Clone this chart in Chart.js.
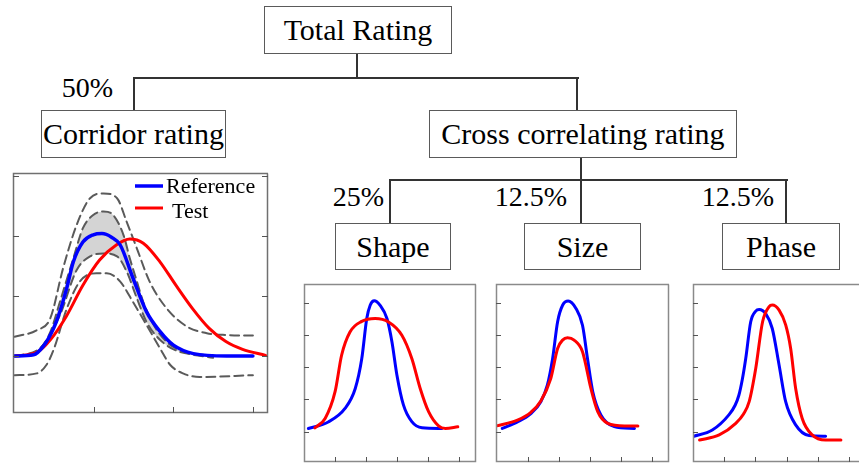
<!DOCTYPE html>
<html>
<head>
<meta charset="utf-8">
<title>Rating scheme</title>
<script src="https://cdn.jsdelivr.net/npm/chart.js@4.4.1/dist/chart.umd.min.js"></script>
<style>
  html, body { margin: 0; padding: 0; background: #fff; }
  #page { position: relative; width: 859px; height: 464px; overflow: hidden; background: #fff; }
  .box { position: absolute; box-sizing: border-box; border: 1px solid #5a5a5a; background: #fff;
         display: flex; align-items: center; justify-content: center;
         font-family: 'Liberation Serif', 'Times New Roman', serif; font-size: 30px; color: #000;
         line-height: 1; white-space: nowrap; }
  .pct { position: absolute; text-align: right; font-family: 'Liberation Serif', 'Times New Roman', serif;
         font-size: 28px; line-height: 28px; color: #000; white-space: nowrap; }
  .ln { position: absolute; background: #333; }
  canvas { position: absolute; }
</style>
</head>
<body>
<div id="page">
  <!-- rating tree -->
  <div class="box" style="left:264px;top:6px;width:188px;height:48px;">Total Rating</div>
  <div class="ln" style="left:356px;top:54px;width:2px;height:25px;"></div>
  <div class="ln" style="left:133px;top:77px;width:446px;height:2px;"></div>
  <div class="ln" style="left:133px;top:77px;width:2px;height:33px;"></div>
  <div class="ln" style="left:576px;top:77px;width:2px;height:33px;"></div>
  <div class="pct" style="left:30px;top:74px;width:83px;">50%</div>
  <div class="box" style="left:41px;top:110px;width:185px;height:48px;">Corridor rating</div>
  <div class="box" style="left:429px;top:110px;width:308px;height:48px;">Cross correlating rating</div>
  <div class="ln" style="left:580px;top:158px;width:2px;height:22px;"></div>
  <div class="ln" style="left:389px;top:179px;width:399px;height:2px;"></div>
  <div class="ln" style="left:389px;top:179px;width:2px;height:44px;"></div>
  <div class="ln" style="left:580px;top:179px;width:2px;height:44px;"></div>
  <div class="ln" style="left:785px;top:179px;width:2px;height:44px;"></div>
  <div class="pct" style="left:300px;top:183px;width:84px;">25%</div>
  <div class="pct" style="left:467px;top:183px;width:100px;">12.5%</div>
  <div class="pct" style="left:674px;top:183px;width:100px;">12.5%</div>
  <div class="box" style="left:335px;top:223px;width:116px;height:47px;">Shape</div>
  <div class="box" style="left:524px;top:223px;width:117px;height:47px;">Size</div>
  <div class="box" style="left:722px;top:223px;width:118px;height:47px;">Phase</div>

  <canvas id="corridor" width="259" height="244" style="left:11px;top:171px;"></canvas>
  <canvas id="shape" width="176" height="182" style="left:302px;top:282px;"></canvas>
  <canvas id="size" width="177" height="182" style="left:494px;top:282px;"></canvas>
  <canvas id="phase" width="168" height="182" style="left:691px;top:282px;"></canvas>
</div>

<script>
// ---- series labels and colours ----
const seriesLabels = ['Reference', 'Test'];
const refColor = '#0000ff';
const testColor = '#ff0000';

// ---- corridor rating: reference, test and corridor bounds ----
const refX  = [0, 0.24, 0.36, 0.49, 0.57, 0.66, 0.74, 0.86, 0.99, 1.10, 1.22, 1.33, 1.49, 1.66, 1.83, 2.00, 2.25, 2.67, 3.0];
const refY  = [0, 0.02, 0.16, 0.46, 0.74, 1.15, 1.57, 1.90, 2.02, 2.04, 1.98, 1.85, 1.30, 0.74, 0.41, 0.18, 0.04, 0, 0];
const testX = [0, 0.28, 0.45, 0.65, 0.86, 1.07, 1.28, 1.45, 1.62, 1.83, 2.03, 2.24, 2.45, 2.66, 2.87, 3.16];
const testY = [0, 0.06, 0.27, 0.66, 1.18, 1.60, 1.85, 1.95, 1.88, 1.57, 1.18, 0.79, 0.46, 0.24, 0.11, 0.01];
const outerUpX  = [0, 0.28, 0.45, 0.61, 0.78, 0.95, 1.12, 1.29, 1.41, 1.54, 1.70, 1.91, 2.17, 2.42, 2.67, 3.0];
const outerUpY  = [0.32, 0.43, 0.63, 1.46, 2.18, 2.63, 2.71, 2.63, 2.24, 1.79, 1.24, 0.80, 0.49, 0.38, 0.35, 0.34];
const innerUpX  = [0, 0.30, 0.45, 0.57, 0.74, 0.86, 0.99, 1.12, 1.24, 1.37, 1.45, 1.54, 1.62, 1.75, 1.91, 2.12, 2.50];
const innerUpY  = [0, 0.10, 0.40, 0.90, 1.63, 2.13, 2.35, 2.41, 2.35, 2.02, 1.63, 1.24, 0.90, 0.52, 0.24, 0.07, -0.03];
const innerLowX = [0, 0.32, 0.57, 0.78, 0.95, 1.12, 1.29, 1.41, 1.54, 1.66, 1.83, 2.08, 2.50];
const innerLowY = [0, 0.13, 0.68, 1.43, 1.66, 1.71, 1.66, 1.41, 0.96, 0.57, 0.27, 0.07, 0.01];
const outerLowX = [0, 0.28, 0.40, 0.49, 0.66, 0.82, 1.03, 1.16, 1.33, 1.49, 1.66, 1.83, 1.96, 2.12, 2.33, 3.0];
const outerLowY = [-0.32, -0.29, -0.15, 0.10, 0.80, 1.24, 1.38, 1.38, 1.24, 0.90, 0.52, 0.13, -0.15, -0.29, -0.35, -0.32];

// ---- shape rating ----
const shapeRefX  = [0.14, 0.78, 1.32, 1.65, 1.86, 2.02, 2.13, 2.26, 2.45, 2.67, 2.83, 2.99, 3.20, 3.47, 3.80, 4.44];
const shapeRefY  = [0.10, 0.30, 0.72, 1.34, 2.27, 3.51, 3.92, 4.06, 3.92, 3.51, 2.79, 1.76, 0.83, 0.31, 0.12, 0.10];
const shapeTestX = [0.35, 0.68, 1.00, 1.21, 1.48, 1.86, 2.29, 2.72, 3.15, 3.47, 3.74, 4.01, 4.33, 4.55, 4.95];
const shapeTestY = [0.12, 0.41, 1.24, 2.37, 3.09, 3.42, 3.51, 3.40, 2.99, 2.27, 1.34, 0.62, 0.18, 0.10, 0.15];

// ---- size rating ----
const sizeRefX  = [0.18, 0.67, 1.10, 1.42, 1.63, 1.80, 1.96, 2.12, 2.30, 2.55, 2.76, 2.92, 3.09, 3.35, 3.78, 4.43];
const sizeRefY  = [0.10, 0.30, 0.56, 0.93, 1.44, 2.27, 3.41, 3.92, 4.05, 3.82, 3.30, 2.27, 1.24, 0.52, 0.16, 0.10];
const sizeTestX = [0, 0.67, 1.10, 1.42, 1.74, 1.96, 2.12, 2.28, 2.49, 2.76, 3.03, 3.25, 3.57, 4.11, 4.54];
const sizeTestY = [0.18, 0.36, 0.60, 0.95, 1.65, 2.58, 2.84, 2.91, 2.84, 2.48, 1.34, 0.62, 0.26, 0.18, 0.18];

// ---- phase rating ----
const phaseRefX  = [0, 0.62, 1.15, 1.35, 1.47, 1.58, 1.69, 1.85, 2.01, 2.12, 2.33, 2.54, 2.76, 2.97, 3.29, 3.72, 4.25];
const phaseRefY  = [-0.15, 0.05, 0.52, 0.82, 1.13, 1.62, 2.27, 3.41, 3.74, 3.79, 3.66, 3.20, 2.06, 0.93, 0.21, -0.12, -0.14];
const phaseTestX = [0.21, 0.84, 1.37, 1.62, 1.80, 2.01, 2.23, 2.44, 2.54, 2.76, 2.97, 3.13, 3.29, 3.50, 3.82, 4.25, 4.74];
const phaseTestY = [-0.26, -0.10, 0.26, 0.55, 0.93, 1.96, 3.41, 3.88, 3.93, 3.77, 3.31, 2.58, 1.34, 0.41, -0.10, -0.26, -0.26];

// ---- tick positions ----
const corridorXTicks = [1, 2, 3];
const corridorYTicks = [0, 1, 2, 3];
const smallXTicks = [1, 2, 3, 4, 5];
const smallYTicks = [0, 1, 2, 3, 4];

const pts = (xs, ys) => xs.map((x, i) => ({ x, y: ys[i] }));

// Frame with inward tick marks, placed through the chart's own scales
const framePlugin = {
  id: 'frame',
  afterDraw(chart, args, opts) {
    const { ctx, chartArea: a, scales } = chart;
    ctx.save();
    ctx.strokeStyle = opts.color;
    ctx.lineWidth = opts.width;
    ctx.beginPath();
    ctx.moveTo(a.right + (opts.right ? 0 : 5), a.top + 0.5);
    ctx.lineTo(a.left + 0.5, a.top + 0.5);
    ctx.lineTo(a.left + 0.5, a.bottom - 0.5);
    ctx.lineTo(a.right + (opts.right ? -0.5 : 5), a.bottom - 0.5);
    if (opts.right) ctx.lineTo(a.right - 0.5, a.top + 0.5);
    ctx.stroke();

    ctx.strokeStyle = opts.tickColor;
    ctx.lineWidth = 1;
    ctx.beginPath();
    const len = opts.tickLen;
    opts.yTicks.forEach(v => {
      const y = Math.round(scales.y.getPixelForValue(v)) + 0.5;
      ctx.moveTo(a.left, y); ctx.lineTo(a.left + len, y);
      if (opts.rightTicks) { ctx.moveTo(a.right, y); ctx.lineTo(a.right - len, y); }
    });
    opts.xTicks.forEach(v => {
      const x = Math.round(scales.x.getPixelForValue(v)) + 0.5;
      ctx.moveTo(x, a.bottom); ctx.lineTo(x, a.bottom - len);
    });
    ctx.stroke();
    ctx.restore();
  }
};

// Line-sample legend inside the corridor plot
const insideLegend = {
  id: 'insideLegend',
  afterDraw(chart, args, opts) {
    if (!opts.show) return;
    const { ctx, chartArea: a } = chart;
    const ds = chart.data.datasets;
    ctx.save();
    ctx.font = '22px "Liberation Serif", "Times New Roman", serif';
    ctx.textBaseline = 'alphabetic';
    ctx.fillStyle = '#000';
    opts.items.forEach(it => {
      const d = ds[it.index];
      ctx.strokeStyle = d.borderColor;
      ctx.lineWidth = d.borderWidth;
      ctx.beginPath();
      ctx.moveTo(a.left + it.x0, a.top + it.ly);
      ctx.lineTo(a.left + it.x1, a.top + it.ly);
      ctx.stroke();
      ctx.fillText(d.label, a.left + it.tx, a.top + it.ty);
    });
    ctx.restore();
  }
};

function baseOptions(xr, yr, pad, frame, legend) {
  return {
    responsive: false,
    animation: false,
    devicePixelRatio: 1,
    events: [],
    layout: { padding: pad },
    elements: {
      point: { radius: 0 },
      line: { cubicInterpolationMode: 'monotone', borderCapStyle: 'round', borderJoinStyle: 'round' }
    },
    scales: {
      x: { type: 'linear', min: xr[0], max: xr[1], display: false },
      y: { type: 'linear', min: yr[0], max: yr[1], display: false }
    },
    plugins: {
      legend: { display: false },
      tooltip: { enabled: false },
      frame: frame,
      insideLegend: legend || { show: false }
    }
  };
}

const dash = { borderColor: '#5a5a5a', borderWidth: 2, borderDash: [9, 5], fill: false };

new Chart(document.getElementById('corridor'), {
  type: 'line',
  data: {
    datasets: [
      { label: seriesLabels[0], data: pts(refX, refY), borderColor: refColor, borderWidth: 3.5, fill: false, order: 0 },
      { label: seriesLabels[1], data: pts(testX, testY), borderColor: testColor, borderWidth: 3, fill: false, order: 1 },
      Object.assign({ label: 'upper outer', data: pts(outerUpX, outerUpY), order: 2 }, dash),
      Object.assign({ label: 'upper inner', data: pts(innerUpX, innerUpY), order: 3 }, dash),
      Object.assign({ label: 'lower inner', data: pts(innerLowX, innerLowY), order: 4 }, dash,
                    { fill: '-1', backgroundColor: '#d4d4d4' }),
      Object.assign({ label: 'lower outer', data: pts(outerLowX, outerLowY), order: 5 }, dash)
    ]
  },
  options: baseOptions([-0.02, 3.19], [-0.95, 3.05], 2,
    { color: '#707070', width: 1.5, tickColor: '#555', tickLen: 6, xTicks: corridorXTicks, yTicks: corridorYTicks, rightTicks: true, right: true },
    { show: true, items: [
      { index: 0, x0: 122, x1: 150, ly: 13, tx: 153, ty: 20 },
      { index: 1, x0: 122, x1: 150, ly: 35, tx: 159, ty: 45 }
    ] }),
  plugins: [framePlugin, insideLegend]
});

function smallChart(id, refPts, testPts, xr, right) {
  new Chart(document.getElementById(id), {
    type: 'line',
    data: {
      datasets: [
        { label: seriesLabels[0], data: refPts, borderColor: refColor, borderWidth: 3, fill: false, order: 1 },
        { label: seriesLabels[1], data: testPts, borderColor: testColor, borderWidth: 3, fill: false, order: 0 }
      ]
    },
    options: baseOptions(xr, [-0.94, 4.58], right ? 2 : { left: 2, top: 2, bottom: 2, right: 0 },
      { color: '#8a8a8a', width: 1.5, tickColor: '#555', tickLen: 5, xTicks: smallXTicks, yTicks: smallYTicks, rightTicks: false, right: right }),
    plugins: [framePlugin]
  });
}

smallChart('shape', pts(shapeRefX, shapeRefY), pts(shapeTestX, shapeTestY), [0, 5.536], true);
smallChart('size', pts(sizeRefX, sizeRefY), pts(sizeTestX, sizeTestY), [-0.02, 5.54], true);
smallChart('phase', pts(phaseRefX, phaseRefY), pts(phaseTestX, phaseTestY), [0, 5.32], false);
</script>
</body>
</html>
